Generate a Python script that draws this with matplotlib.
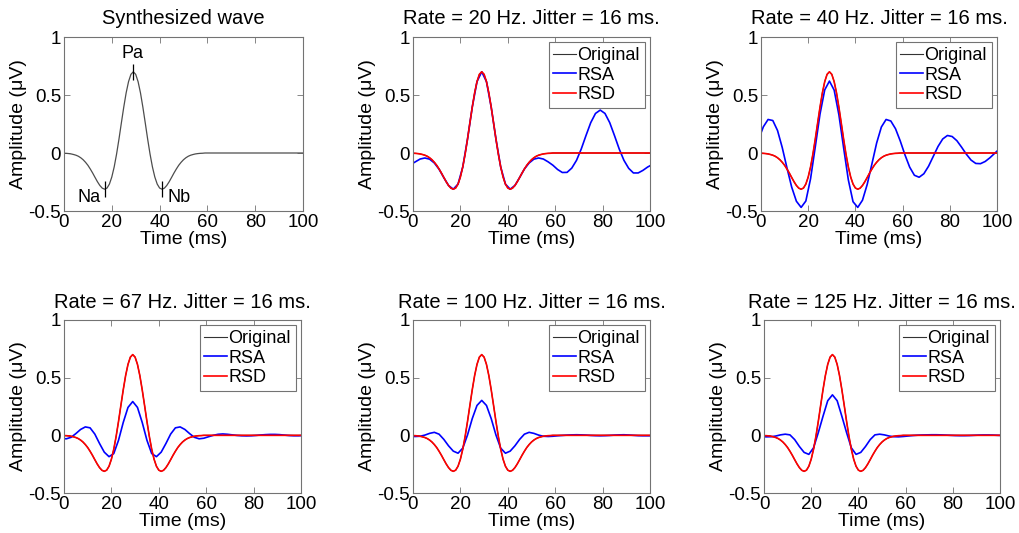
import matplotlib.pyplot as plt
import numpy as np

plt.rcParams['font.family'] = ['Liberation Sans', 'DejaVu Sans']

# synthesized (original) wave, 1 ms steps from 0 to 100 ms
time_orig = np.arange(0, 101)
original = [
    -0.002, -0.003, -0.005, -0.008, -0.013, -0.019, -0.028, -0.041, -0.058, -0.080,
    -0.106, -0.138, -0.173, -0.211, -0.248, -0.280, -0.303, -0.312, -0.302, -0.268,
    -0.207, -0.120, -0.009, 0.120, 0.259, 0.395, 0.518, 0.615, 0.678, 0.700,
    0.678, 0.615, 0.518, 0.395, 0.259, 0.120, -0.009, -0.120, -0.207, -0.268,
    -0.302, -0.312, -0.303, -0.280, -0.248, -0.211, -0.173, -0.138, -0.106, -0.080,
    -0.058, -0.041, -0.028, -0.019, -0.013, -0.008, -0.005, -0.003, -0.002, 0.0,
    0.0, 0.0, 0.0, 0.0, 0.0, 0.0, 0.0, 0.0, 0.0, 0.0,
    0.0, 0.0, 0.0, 0.0, 0.0, 0.0, 0.0, 0.0, 0.0, 0.0,
    0.0, 0.0, 0.0, 0.0, 0.0, 0.0, 0.0, 0.0, 0.0, 0.0,
    0.0, 0.0, 0.0, 0.0, 0.0, 0.0, 0.0, 0.0, 0.0, 0.0,
    0.0]

# RSA estimates, read at t = 0, 1, 3, 5, ..., 99, 100 ms
time_rsa = np.r_[0, np.arange(1, 100, 2), 100]
rsa_20 = [
    -0.088, -0.076, -0.052, -0.043, -0.053, -0.086, -0.140, -0.212, -0.280, -0.312,
    -0.268, -0.120, 0.120, 0.395, 0.615, 0.700, 0.615, 0.395, 0.120, -0.120,
    -0.268, -0.312, -0.280, -0.211, -0.138, -0.086, -0.053, -0.043, -0.052, -0.076,
    -0.105, -0.142, -0.168, -0.167, -0.130, -0.063, 0.035, 0.151, 0.262, 0.341,
    0.370, 0.341, 0.262, 0.151, 0.035, -0.063, -0.132, -0.172, -0.172, -0.150,
    -0.121, -0.110]
rsa_40 = [
    0.172, 0.226, 0.289, 0.280, 0.194, 0.047, -0.128, -0.294, -0.416, -0.469,
    -0.414, -0.222, 0.053, 0.335, 0.544, 0.620, 0.542, 0.330, 0.046, -0.231,
    -0.420, -0.469, -0.407, -0.271, -0.094, 0.086, 0.224, 0.289, 0.276, 0.209,
    0.104, -0.016, -0.122, -0.192, -0.209, -0.179, -0.114, -0.029, 0.056, 0.121,
    0.151, 0.142, 0.106, 0.050, -0.010, -0.061, -0.090, -0.092, -0.073, -0.041,
    -0.003, 0.016]
rsa_67 = [
    -0.029, -0.030, -0.017, 0.015, 0.051, 0.073, 0.065, 0.011, -0.071, -0.146,
    -0.185, -0.158, -0.043, 0.112, 0.242, 0.293, 0.242, 0.112, -0.043, -0.158,
    -0.185, -0.146, -0.071, 0.011, 0.065, 0.073, 0.051, 0.015, -0.017, -0.030,
    -0.025, -0.012, 0.000, 0.009, 0.012, 0.009, 0.004, -0.001, -0.004, -0.005,
    -0.004, -0.001, 0.003, 0.006, 0.008, 0.008, 0.006, 0.002, -0.002, -0.004,
    -0.004, -0.003]
rsa_100 = [
    -0.010, -0.010, -0.008, 0.002, 0.017, 0.026, 0.010, -0.035, -0.091, -0.137,
    -0.155, -0.111, 0.003, 0.145, 0.259, 0.303, 0.259, 0.145, 0.003, -0.111,
    -0.155, -0.137, -0.091, -0.035, 0.010, 0.026, 0.017, 0.002, -0.008, -0.010,
    -0.008, -0.004, -0.001, 0.002, 0.004, 0.005, 0.004, 0.002, -0.001, -0.003,
    -0.004, -0.003, -0.001, 0.002, 0.004, 0.005, 0.003, 0.000, -0.003, -0.004,
    -0.004, -0.004]
rsa_125 = [
    -0.012, -0.013, -0.012, -0.006, 0.004, 0.010, 0.004, -0.037, -0.097, -0.148,
    -0.165, -0.108, 0.023, 0.165, 0.300, 0.351, 0.300, 0.165, 0.023, -0.108,
    -0.165, -0.148, -0.097, -0.037, 0.004, 0.010, 0.004, -0.006, -0.012, -0.013,
    -0.010, -0.006, -0.002, 0.001, 0.003, 0.004, 0.005, 0.005, 0.004, 0.002,
    0.000, -0.002, -0.003, -0.003, -0.002, 0.000, 0.002, 0.003, 0.003, 0.002,
    0.000, -0.001]

# RSD recovers the original wave (the two lines overlap in every panel)
rsd_20 = original
rsd_40 = original
rsd_67 = original
rsd_100 = original
rsd_125 = original

rates = [20, 40, 67, 100, 125]
jitter = 16
rsa_all = [rsa_20, rsa_40, rsa_67, rsa_100, rsa_125]
rsd_all = [rsd_20, rsd_40, rsd_67, rsd_100, rsd_125]

peak_names = ['Na', 'Pa', 'Nb']
peak_times = [17, 29, 41]
peak_amps = [-0.312, 0.700, -0.312]

# axes boxes in pixels: left, top, right, bottom
boxes = [(64, 37, 303, 211), (413, 37, 650, 211), (761, 37, 997, 211),
         (64, 320, 301, 493), (413, 320, 650, 493), (764, 320, 1000, 493)]

W, H = 1019, 533
fig = plt.figure(figsize=(W / 100, H / 100), dpi=100)

def make_axes(box):
  l, t, r, b = box
  ax = fig.add_axes([l / W, (H - b) / H, (r - l) / W, (b - t) / H])
  ax.set_xlim(0, 100)
  ax.set_ylim(-0.5, 1)
  ax.set_xticks(np.arange(0, 101, 20))
  ax.set_yticks([-0.5, 0, 0.5, 1])
  ax.set_yticklabels(['-0.5', '0', '0.5', '1'])
  ax.tick_params(direction='in', top=True, right=True, length=4, width=0.6,
                 color='0.45', labelsize=13.5, pad=2)
  for s in ax.spines.values():
    s.set_color('0.45')
    s.set_linewidth(0.8)
  ax.set_xlabel('Time (ms)', fontsize=14, labelpad=0)
  ax.set_ylabel('Amplitude (\u03bcV)', fontsize=14, labelpad=1)
  return ax

# synthesized wave panel
ax = make_axes(boxes[0])
ax.plot(time_orig, original, color='0.3', lw=0.9)
ax.plot(peak_times, peak_amps, linestyle='none', marker='|', ms=11, mew=0.9, color='k')
ax.text(28.5, 0.855, 'Pa', fontsize=13, ha='center', va='center')
ax.text(10.5, -0.385, 'Na', fontsize=13, ha='center', va='center')
ax.text(48, -0.385, 'Nb', fontsize=13, ha='center', va='center')
ax.set_title('Synthesized wave', fontsize=14.5, pad=9)

for i, rate in enumerate(rates):
  ax = make_axes(boxes[i + 1])
  ax.plot(time_orig, original, color='0.2', lw=0.8, label='Original')
  ax.plot(time_rsa, rsa_all[i], color='#0000ff', lw=1.2, label='RSA')
  ax.plot(time_orig, rsd_all[i], color='#ff0000', lw=1.2, label='RSD')
  ax.set_title('Rate = %d Hz. Jitter = %d ms.' % (rate, jitter), fontsize=14.5, pad=9)
  leg = ax.legend(loc='upper right', fontsize=13, fancybox=False, framealpha=1,
                  edgecolor='0.45', handlelength=1.25, handletextpad=0.1,
                  borderpad=0.25, labelspacing=0.15, borderaxespad=0.3)
  leg.get_frame().set_linewidth(0.8)

fig.savefig('out.png', dpi=100)
